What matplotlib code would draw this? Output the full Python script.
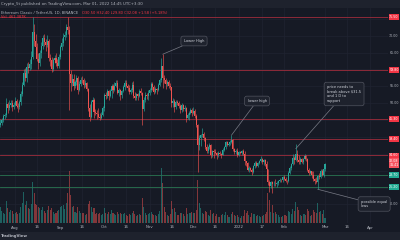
import matplotlib
matplotlib.use("Agg")
import matplotlib.pyplot as plt
import matplotlib.transforms as mtransforms
import numpy as np
import pandas as pd

# ---------------- data (daily, ETC/USDT, 2021-07-22 .. 2022-03-01) ----------------
start_date = "2021-07-22"
first_open = 43.5
closes = [
    # Jul 22-31
    44.2, 45.0, 46.1, 46.5, 49.8, 48.7, 49.5, 50.2, 48.9, 49.6,
    # Aug
    50.5, 49.3, 48.8, 50.4, 52.8, 55.5, 58.9, 57.6, 60.8, 60.3,
    61.5, 63.8, 71.0, 68.5, 66.5, 63.2, 61.8, 64.9, 67.0, 69.4,
    68.0, 67.2, 68.5, 63.4, 62.8, 60.2, 62.9, 63.5, 61.8, 61.0, 63.8,
    # Sep
    66.5, 67.9, 69.5, 70.2, 72.5, 71.8, 58.5, 56.0, 57.2, 55.0,
    56.2, 57.5, 54.0, 55.8, 57.0, 56.8, 55.3, 55.9, 54.2, 48.5,
    45.9, 50.3, 51.0, 47.5, 47.2, 46.8, 46.0, 45.6, 46.5, 48.5,
    # Oct
    52.3, 52.0, 53.5, 52.2, 53.6, 55.0, 53.8, 55.2, 56.1, 53.0,
    53.8, 52.3, 53.6, 54.9, 56.0, 55.2, 54.6, 53.2, 53.9, 55.4,
    52.0, 51.5, 52.6, 52.0, 53.7, 52.9, 48.2, 50.9, 52.5, 52.0, 53.1,
    # Nov
    53.8, 55.6, 54.8, 53.2, 54.1, 53.8, 55.5, 56.8, 61.0, 57.5,
    57.0, 55.6, 56.2, 55.0, 54.7, 50.2, 50.6, 49.0, 50.3, 50.0,
    49.1, 48.0, 49.5, 48.3, 48.6, 45.7, 46.5, 47.2, 48.0, 47.0,
    # Dec
    47.8, 46.2, 43.5, 37.5, 39.8, 40.5, 41.0, 39.6, 37.0, 35.8,
    37.0, 37.5, 34.6, 35.8, 35.6, 35.2, 34.7, 35.3, 35.0, 34.7,
    36.1, 36.9, 38.4, 37.6, 38.0, 38.6, 39.0, 36.3, 35.5, 35.8, 34.5,
    # Jan
    35.5, 35.2, 35.8, 35.0, 32.8, 32.4, 30.3, 30.8, 30.2, 29.6,
    31.3, 32.4, 31.5, 32.2, 32.8, 33.6, 32.6, 33.2, 31.9, 30.4,
    26.6, 25.6, 26.6, 26.0, 26.2, 26.0, 26.3, 27.0, 27.3, 27.1, 28.1,
    # Feb
    27.6, 27.0, 26.8, 29.4, 30.8, 31.9, 33.7, 33.1, 34.9, 33.3,
    32.5, 33.5, 32.7, 33.4, 34.4, 33.6, 30.3, 29.3, 29.8, 28.6,
    27.4, 26.8, 26.7, 28.3, 28.0, 29.9, 28.8, 30.5,
    # Mar 1
    32.08,
]
highs = [
    45.3, 45.6, 46.9, 47.2, 51.5, 50.3, 50.8, 51.0, 50.9, 50.4,
    51.9, 51.2, 50.0, 51.0, 53.6, 56.4, 60.2, 60.5, 61.8, 62.2,
    63.0, 65.5, 75.6, 73.5, 70.5, 67.8, 65.0, 65.8, 68.0, 70.3,
    70.5, 68.9, 70.2, 69.0, 64.6, 63.8, 63.5, 64.4, 64.8, 63.2, 64.6,
    67.3, 69.4, 70.8, 71.5, 73.6, 75.5, 72.8, 59.8, 58.6, 58.5,
    57.0, 58.3, 58.0, 56.5, 57.8, 58.2, 57.4, 56.8, 56.3, 54.5,
    49.8, 50.9, 51.8, 51.6, 48.3, 48.0, 48.5, 47.2, 47.4, 49.2,
    53.0, 53.4, 54.2, 53.9, 54.3, 55.6, 55.8, 56.3, 56.9, 56.8,
    54.5, 54.2, 54.0, 55.5, 56.8, 56.9, 55.7, 55.3, 54.6, 56.2,
    56.5, 53.2, 53.0, 53.1, 54.3, 54.5, 53.4, 51.8, 53.2, 53.0, 53.8,
    54.6, 56.4, 56.3, 55.4, 54.8, 54.6, 56.0, 57.6, 63.5, 64.5,
    58.4, 57.6, 57.0, 56.8, 56.0, 54.9, 51.5, 51.3, 50.9, 51.0,
    50.6, 49.8, 50.0, 49.9, 49.5, 49.0, 47.1, 47.6, 48.7, 48.6,
    49.0, 48.2, 46.8, 43.8, 40.5, 41.0, 42.5, 41.4, 40.0, 38.0,
    37.4, 38.1, 37.8, 36.2, 36.5, 36.3, 35.6, 35.8, 35.9, 35.3,
    36.6, 37.3, 38.9, 38.8, 38.5, 39.1, 40.5, 39.3, 36.8, 36.3, 36.6,
    35.9, 35.9, 36.2, 36.3, 35.7, 33.0, 32.6, 31.4, 31.2, 30.7,
    31.7, 32.9, 32.9, 32.6, 33.3, 34.3, 33.9, 33.5, 33.5, 33.0,
    30.6, 27.2, 26.9, 26.8, 26.9, 27.6, 26.8, 27.3, 27.7, 27.6, 28.4,
    28.8, 28.0, 27.3, 29.8, 31.4, 32.3, 34.8, 34.4, 38.0, 36.0,
    34.6, 34.0, 33.9, 33.8, 34.9, 34.7, 33.9, 30.9, 30.1, 30.0,
    29.9, 27.7, 28.1, 28.8, 29.2, 30.6, 30.4, 31.1,
    32.4,
]
lows = [
    42.8, 43.6, 44.5, 45.3, 46.0, 47.0, 48.0, 48.9, 47.6, 48.3,
    49.1, 48.6, 47.5, 48.2, 49.6, 52.0, 55.0, 56.5, 56.3, 58.9,
    59.8, 60.2, 63.0, 66.8, 64.0, 62.5, 60.0, 60.9, 63.5, 66.2,
    66.9, 65.5, 66.5, 62.5, 61.0, 59.2, 59.5, 62.0, 61.0, 60.3, 60.5,
    63.0, 65.8, 66.9, 68.8, 69.5, 70.6, 48.0, 53.5, 55.2, 53.8,
    54.5, 55.3, 52.8, 53.6, 55.1, 55.9, 54.6, 54.8, 53.6, 47.6,
    44.8, 45.5, 49.6, 45.6, 46.4, 45.3, 45.7, 45.0, 45.2, 46.2,
    47.6, 51.3, 51.6, 51.0, 51.8, 51.5, 53.0, 53.5, 54.7, 52.7,
    52.0, 50.8, 51.6, 53.2, 54.0, 54.8, 53.5, 52.6, 52.8, 53.4,
    51.4, 50.8, 51.0, 50.9, 51.7, 52.3, 43.5, 47.6, 50.4, 51.2, 51.0,
    52.4, 53.3, 53.9, 52.6, 52.9, 52.7, 53.6, 55.1, 56.4, 54.5,
    56.0, 54.2, 55.0, 54.4, 54.0, 49.0, 48.8, 47.3, 48.3, 49.4,
    48.7, 47.0, 47.4, 47.6, 47.8, 44.3, 45.3, 45.0, 46.8, 46.2,
    46.7, 45.6, 42.8, 29.5, 36.0, 37.2, 40.0, 38.8, 36.5, 35.3,
    35.2, 36.4, 33.9, 34.0, 33.8, 34.8, 33.6, 34.2, 34.6, 33.8,
    34.5, 35.8, 36.4, 37.2, 37.3, 37.6, 38.3, 35.9, 35.0, 35.0, 34.0,
    34.3, 34.8, 34.6, 34.6, 31.8, 31.5, 29.9, 29.6, 29.8, 28.6,
    29.3, 30.9, 31.1, 31.0, 31.9, 32.5, 32.0, 31.8, 31.3, 30.0,
    25.8, 23.8, 25.0, 23.5, 25.4, 25.5, 25.2, 25.8, 26.7, 26.6, 26.6,
    27.3, 26.7, 26.1, 26.5, 29.1, 30.2, 31.6, 31.9, 32.8, 32.6,
    31.9, 32.1, 32.4, 31.9, 33.1, 33.0, 29.9, 28.8, 29.0, 27.9,
    27.0, 26.0, 26.4, 24.5, 27.5, 27.8, 28.3, 28.2,
    29.8,
]
volumes_m = [
    1.6, 1.2, 1.0, 0.9, 2.2, 1.5, 1.1, 1.3, 1.2, 0.9,
    1.0, 1.1, 0.9, 1.0, 1.6, 2.0, 3.1, 1.8, 2.2, 1.5,
    1.4, 1.9, 4.1, 3.0, 1.9, 1.8, 1.6, 1.5, 1.3, 1.6,
    1.2, 1.0, 1.3, 1.7, 1.3, 1.5, 1.1, 0.9, 1.0, 1.2, 1.3,
    1.6, 1.7, 1.8, 1.4, 2.0, 3.0, 5.2, 2.8, 1.6, 1.7,
    1.1, 1.0, 1.6, 1.2, 1.0, 1.0, 1.0, 0.8, 0.9, 1.9,
    2.2, 1.6, 1.1, 1.5, 0.9, 1.0, 0.9, 1.0, 0.8, 0.9,
    1.5, 1.0, 0.9, 1.1, 0.9, 1.3, 1.0, 0.9, 0.8, 1.1,
    0.9, 1.0, 0.9, 0.9, 1.0, 0.8, 0.7, 0.9, 0.8, 1.0,
    1.2, 0.9, 0.7, 0.8, 0.9, 0.8, 2.5, 1.6, 1.0, 0.8, 0.9,
    1.0, 1.1, 0.9, 0.8, 0.8, 0.7, 0.9, 1.2, 5.5, 4.0,
    1.6, 1.1, 0.8, 0.7, 0.9, 2.2, 1.4, 1.5, 1.1, 0.8,
    0.8, 1.0, 1.0, 0.9, 0.7, 1.5, 0.9, 1.0, 1.0, 1.1,
    1.0, 1.0, 1.3, 4.3, 2.0, 1.5, 1.0, 0.9, 1.2, 1.1,
    0.8, 0.7, 1.3, 0.9, 1.0, 0.7, 0.9, 0.6, 0.6, 0.8,
    0.9, 0.8, 1.1, 0.8, 0.6, 0.6, 0.9, 1.1, 0.8, 0.7, 0.8,
    0.6, 0.5, 0.7, 0.7, 1.3, 1.0, 1.2, 0.8, 0.6, 1.0,
    0.9, 0.9, 0.7, 0.8, 0.7, 0.6, 0.7, 0.8, 0.9, 1.1,
    3.0, 2.3, 1.1, 1.8, 1.0, 1.1, 0.9, 0.8, 0.6, 0.6, 0.7,
    0.8, 0.8, 0.7, 1.2, 1.1, 0.9, 1.4, 1.2, 2.1, 1.6,
    1.3, 0.8, 0.7, 0.9, 0.9, 0.8, 1.4, 1.2, 0.7, 0.8,
    1.3, 1.1, 1.0, 2.0, 1.1, 1.2, 0.9, 1.3,
    0.46,
]

red_levels = [75.5, 59.8, 45.3, 39.4, 34.6]
red_labels = ["75.50", "59.80", "45.30", "39.40", "34.60"]
green_levels = [28.7, 25.2]
green_labels = ["28.70", "25.20"]
last_labels = [(33.0, "32.08"), (31.6, "31.41")]
price_ticks = [20, 25, 30, 35, 40, 45, 50, 55, 60, 65, 70, 75]
time_tick_dates = ["2021-08-01", "2021-08-16", "2021-09-01", "2021-09-16", "2021-10-01",
                   "2021-10-16", "2021-11-01", "2021-11-16", "2021-12-01", "2021-12-16",
                   "2022-01-01", "2022-01-17", "2022-02-01", "2022-03-01", "2022-03-16",
                   "2022-04-01"]
time_tick_labels = ["Aug", "16", "Sep", "16", "Oct", "16", "Nov", "16", "Dec", "16",
                    "2022", "17", "Feb", "Mar", "16", "Apr"]

callouts = [
    ("Lower High", "2021-11-10", 64.5, (194, 41)),
    ("lower high", "2021-12-27", 40.5, (257, 101)),
    ("price needs to\nbreak above $31.5\nand 1 D to\nsupport", "2022-02-09", 36.5, (327, 94)),
    ("possible equal\nlows", "2022-02-24", 24.5, (361, 204)),
]

# ---------------- figure ----------------
W, H = 400, 240
BG = "#161a25"
UP, DOWN = "#26a69a", "#ef5350"
TXT = "#b2b5be"

fig = plt.figure(figsize=(W / 100, H / 100), dpi=100, facecolor=BG)

def fpx(x, y):
    return x / W, 1 - y / H

fig.patches.append(plt.Rectangle((0, 1 - 8 / H), 1, 8 / H, transform=fig.transFigure,
                                 fc="#1e222d", ec="none", zorder=0))
fig.patches.append(plt.Rectangle((0, 0), 1, 8 / H, transform=fig.transFigure,
                                 fc="#1e222d", ec="none", zorder=0))

ax_left, ax_right, ax_top, ax_bot = 0, 388, 8, 223
rect = [ax_left / W, 1 - ax_bot / H, (ax_right - ax_left) / W, (ax_bot - ax_top) / H]

start = pd.Timestamp(start_date)
x = np.arange(len(closes))
opens = np.array([first_open] + closes[:-1])
c = np.array(closes)
up = c >= opens
colors = np.where(up, UP, DOWN)

YMIN, YMAX = 14.5, 78.2
VTOP = 21.5

ax_v = fig.add_axes(rect)
ax_v.set_facecolor(BG)
ax_v.bar(x, volumes_m, width=0.7, color=colors, alpha=0.5, linewidth=0)
ax_v.set_ylim(0, VTOP)
ax_v.axis("off")

ax = fig.add_axes(rect, sharex=ax_v)
ax.patch.set_alpha(0)
for s in ax.spines.values():
    s.set_visible(False)
ax.tick_params(left=False, bottom=False, labelleft=False, labelbottom=False)

tick_x = [(pd.Timestamp(d) - start).days for d in time_tick_dates]
for tx in tick_x:
    ax_v.axvline(tx, color="#1f2431", lw=0.5, zorder=0)
for pt in price_ticks:
    ax_v.axhline((pt - YMIN) / (YMAX - YMIN) * VTOP, color="#1f2431", lw=0.5, zorder=0)

for lv in red_levels:
    ax.axhline(lv, color="#a02c3c", lw=0.6, zorder=1)
for lv in green_levels:
    ax.axhline(lv, color="#2a7552", lw=0.6, zorder=1)

ax.vlines(x, lows, highs, colors=colors, lw=0.45, zorder=2)
ax.bar(x, np.abs(c - opens), bottom=np.minimum(c, opens), width=0.7,
       color=colors, linewidth=0, zorder=3)

ax.set_xlim(-0.3, 265.1)
ax.set_ylim(YMIN, YMAX)

for text, d, price, (bx, by) in callouts:
    xi = (pd.Timestamp(d) - start).days
    ax.annotate(text, xy=(xi, price), xycoords="data",
                xytext=fpx(bx, by), textcoords="figure fraction",
                ha="left" if "\n" in text else "center", va="center",
                fontsize=2.6, color="#d1d4dc", linespacing=1.2,
                bbox=dict(boxstyle="round,pad=0.8,rounding_size=0.6",
                          fc="#1e222d", ec="#5d606b", lw=0.4),
                arrowprops=dict(arrowstyle="-", color="#787b86", lw=0.5,
                                shrinkA=0, shrinkB=0),
                zorder=6)

# right price scale
SCALE_X = (ax_right + 6) / W
trans = mtransforms.blended_transform_factory(fig.transFigure, ax.transData)
all_label_levels = red_levels + green_levels + [lv for lv, _ in last_labels]
for pt in price_ticks:
    if min(abs(pt - lv) for lv in all_label_levels) < 1.8:
        continue
    ax.text(SCALE_X, pt, f"{pt:.2f}", transform=trans, fontsize=2.3, color=TXT,
            ha="center", va="center", clip_on=False)
lab_box = dict(boxstyle="square,pad=0.2", lw=0)
for lv, lb in zip(red_levels, red_labels):
    ax.text(SCALE_X, lv, lb, transform=trans, fontsize=2.3, color="white", ha="center",
            va="center", clip_on=False, zorder=8, bbox=dict(lab_box, fc="#f23645"))
for lv, lb in zip(green_levels, green_labels):
    ax.text(SCALE_X, lv, lb, transform=trans, fontsize=2.3, color="white", ha="center",
            va="center", clip_on=False, zorder=8, bbox=dict(lab_box, fc="#22ab94"))
for lv, lb in last_labels:
    ax.text(SCALE_X, lv, lb, transform=trans, fontsize=2.3, color="white", ha="center",
            va="center", clip_on=False, zorder=9, bbox=dict(lab_box, fc="#f7525f"))

# time axis labels
for tx, tl in zip(tick_x, time_tick_labels):
    xf = ax.transData.transform((tx, 0))[0] / fig.bbox.width
    fig.text(xf, 1 - 227.5 / H, tl, fontsize=2.8, color=TXT, ha="center", va="center")

# header / legend / footer texts
fig.text(*fpx(1, 4), "Crypto_5t published on TradingView.com, Mar 01, 2022 14:45 UTC+3:30",
         fontsize=2.8, color=TXT, ha="left", va="center")
sym = fig.text(*fpx(1, 12.5), "Ethereum Classic / TetherUS, 1D, BINANCE", fontsize=2.6,
               color=TXT, ha="left", va="center")
fig.canvas.draw()
sym_end = sym.get_window_extent().x1
fig.text((sym_end + 4) / W, 1 - 12.5 / H, "O30.50 H32.40 L29.80 C32.08 +1.58 (+5.18%)",
         fontsize=2.6, color="#f23645", ha="left", va="center")
fig.text(*fpx(1, 17.5), "Vol  461.387K", fontsize=2.6, color="#f23645", ha="left", va="center")
fig.text(*fpx(1, 236), "TradingView", fontsize=2.8, color=TXT, ha="left", va="center",
         fontweight="bold")

fig.savefig("out.png", dpi=100, facecolor=BG)
